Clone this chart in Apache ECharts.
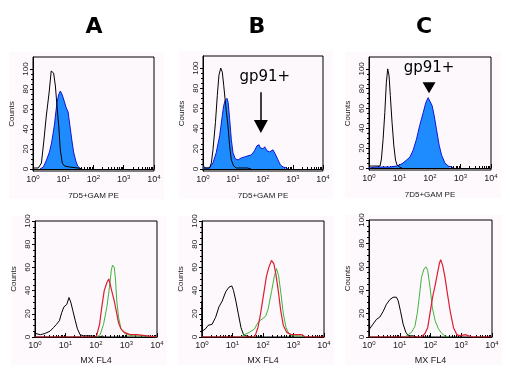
<!DOCTYPE html>
<html><head><meta charset="utf-8">
<script src="https://cdn.jsdelivr.net/npm/echarts@6/dist/echarts.min.js"></script>
<style>html,body{margin:0;padding:0;background:#fff}#c{width:510px;height:368px}</style>
</head><body><div id="c"></div>
<script>
// ---- tick labels / headings ----
const headings = ['A', 'B', 'C'];
const xMajor = [1, 10, 100, 1000, 10000];
const xMinor = [2,3,4,5,6,7,8,9,20,30,40,50,60,70,80,90,200,300,400,500,600,700,800,900,2000,3000,4000,5000,6000,7000,8000,9000];
const yTicks = [0, 20, 40, 60, 80, 100];
const yMinor = [5,10,15,25,30,35,45,50,55,65,70,75,85,90,95];
const topXName = '7D5+GAM PE';
const botXName = 'MX FL4';
const yName = 'Counts';
const markText = 'gp91+';

// ---- data: [fluorescence, counts] ----
const topA_open = [[1,1],[1.5,1],[1.7,3],[1.9,6],[2.3,29],[2.75,53],[3.4,76],[4.0,98],[4.35,100],[4.8,96],[5.5,83],[6.2,63],[7.1,43],[8.0,19],[9.3,6],[11,3],[16,2],[31,1],[42,0]];
const topA_fill = [[1.7,0],[2.2,2],[2.8,9],[3.5,17],[4.1,26],[4.7,37],[5.2,46],[5.7,57],[6.2,66],[7.0,74],[8.0,78],[9.0,75],[10,71],[11.5,65],[12.6,61],[14.5,57],[16,47],[19,30],[22,17],[26,8],[30,3],[34,1],[38,0]];

const topB_open = [[1,1],[1.66,1],[1.9,6],[2.15,19],[2.6,46],[3.0,73],[3.4,93],[3.9,100],[4.4,96],[4.9,83],[5.7,63],[6.8,43],[7.7,23],[8.8,9],[10.5,3],[12.9,1],[20,1],[30,1],[40,0]];
const topB_fill = [[1.0,3],[1.23,1],[1.6,1],[2.15,6],[2.75,16],[3.6,33],[4.4,53],[4.9,63],[5.5,68],[6.3,70],[6.9,66],[7.7,50],[8.8,29],[10,16],[12,10],[14.7,9],[19,11],[24.5,12],[31.6,13],[41,14],[52,18],[63,23],[74,24],[81,21],[100,20],[114,22],[136,18],[167,17],[215,19],[265,14],[316,9],[380,4],[467,2],[600,1],[680,0]];

const topC_open = [[1,2],[2.3,2],[2.55,9],[2.9,29],[3.3,56],[3.7,86],[4.1,100],[4.55,93],[5.0,73],[5.7,46],[6.5,23],[7.4,8],[8.3,3],[10,1],[12,0]];
const topC_fill = [[1,0],[1.7,1],[4.8,1],[7.9,2],[10,3],[13,5],[17,8],[22,11],[28,18],[36,29],[46,43],[60,56],[73,66],[87,71],[98,69],[117,63],[137,53],[163,39],[200,23],[240,13],[309,5],[398,2],[510,1],[575,0]];

const botA_black = [[1,0],[1,5],[1.05,3],[1.5,2],[2.1,3],[3.1,5],[4.0,8],[5.1,11],[6.3,14],[7.5,21],[8.9,26],[11,28],[13,34],[14.9,30],[17.3,23],[21,14],[24.6,7],[30,2],[39,1],[64,1],[137,0],[160,1],[180,0]];
const botA_green = [[107,0],[137,2],[177,11],[228,26],[277,43],[316,57],[348,62],[398,60],[437,49],[480,31],[550,17],[660,7],[800,4],[1030,2],[1700,1],[3600,1],[10000,0]];
const botA_red = [[1,0],[100,0],[107,2],[131,11],[155,26],[186,40],[228,47],[263,50],[300,44],[348,37],[398,31],[457,23],[550,12],[660,7],[850,4],[1320,2],[2190,2],[4680,1],[10000,0]];

const botB_black = [[1,0],[1,31],[1.02,5],[1.3,7],[1.58,10],[2.15,11],[2.8,17],[3.6,26],[4.6,31],[6.0,39],[7.7,43],[9.5,44],[10.8,40],[12.9,31],[15.5,20],[19,8],[23,2],[27.6,1],[41,0]];
const botB_green = [[19,0],[24.5,2],[36,4],[53,7],[63,11],[78,14],[100,16],[123,18],[147,24],[190,39],[234,52],[277,59],[324,53],[390,37],[464,20],[570,8],[700,3],[880,1],[1670,1],[2100,0]];
const botB_red = [[1,0],[50,0],[57,2],[68,8],[83,20],[105,37],[129,52],[155,60],[190,66],[228,63],[265,54],[316,40],[380,23],[464,10],[600,4],[880,2],[1900,2],[2450,0],[10000,0]];

const botC_black = [[1,0],[1,34],[1.05,7],[1.35,11],[1.74,15],[2.24,17],[2.9,22],[3.7,28],[4.8,32],[6.1,34],[7.8,34],[8.9,31],[10.6,22],[12.9,11],[15.8,4],[19,1],[27.5,1],[35,0]];
const botC_green = [[14.7,0],[19,2],[24,4],[31,9],[37,20],[43,34],[51,51],[61,58],[71,60],[81,57],[96,43],[115,25],[141,14],[181,7],[233,3],[296,1],[380,0]];
const botC_red = [[1,0],[51,0],[66,3],[81,8],[96,20],[117,34],[141,44],[167,54],[195,63],[215,66],[250,61],[296,51],[355,37],[437,22],[560,8],[720,2],[910,1],[1350,2],[1740,1],[2240,0],[10000,0]];

// ---- layout ----
const panels = [
  {grid:{left:33,top:57,width:121,height:114}, ymin:-2, ymax:112, xname:topXName, nameGap:21, nameSize:8, kind:'top', open:topA_open, fill:topA_fill},
  {grid:{left:203,top:56,width:120,height:115}, ymin:-2, ymax:112, xname:topXName, nameGap:21, nameSize:8, kind:'top', open:topB_open, fill:topB_fill, arrow:'long'},
  {grid:{left:369,top:57,width:122,height:113}, ymin:-2, ymax:112, xname:topXName, nameGap:21, nameSize:8, kind:'top', open:topC_open, fill:topC_fill, arrow:'short'},
  {grid:{left:35,top:221,width:122,height:116}, ymin:0, ymax:100, xname:botXName, nameGap:19, nameSize:9, kind:'bot', black:botA_black, green:botA_green, red:botA_red},
  {grid:{left:202,top:221,width:122,height:116}, ymin:0, ymax:100, xname:botXName, nameGap:19, nameSize:9, kind:'bot', black:botB_black, green:botB_green, red:botB_red},
  {grid:{left:369,top:220,width:123,height:117}, ymin:0, ymax:100, xname:botXName, nameGap:19, nameSize:9, kind:'bot', black:botC_black, green:botC_green, red:botC_red}
];
const headingX = [94, 257, 424];

const FONT = 'Liberation Sans';
const grids = [], xAxes = [], yAxes = [], series = [], graphics = [];
panels.forEach((p, i) => {
  const g = p.grid;
  graphics.push({type:'rect', z:-10, shape:{x:g.left-24, y:g.top-5, width:g.width+34, height:g.height+33}, style:{fill:'#fdf9fd'}});
  grids.push({left:g.left, top:g.top, width:g.width, height:g.height, show:true, borderColor:'#000', borderWidth:1, backgroundColor:'#fdf8fc'});
  xAxes.push({type:'log', logBase:10, min:1, max:10000, gridIndex:i, position:'bottom',
    axisLine:{show:true, lineStyle:{color:'#000', width:1}},
    axisTick:{show:true, inside:true, length:4, customValues:xMajor, lineStyle:{color:'#000'}},
    axisLabel:{show:true, customValues:xMajor, margin:3, color:'#222', fontSize:9, fontFamily:FONT,
      formatter:v => '10{s|' + Math.round(Math.log10(v)) + '}',
      rich:{s:{fontSize:6, fontFamily:FONT, color:'#222', verticalAlign:'bottom', padding:[0,0,6,0]}}},
    splitLine:{show:false},
    name:p.xname, nameLocation:'middle', nameGap:p.nameGap,
    nameTextStyle:{fontSize:p.nameSize, fontFamily:FONT, color:'#222'}});
  xAxes.push({type:'log', logBase:10, min:1, max:10000, gridIndex:i, position:'bottom',
    axisLine:{show:false}, axisLabel:{show:false}, splitLine:{show:false},
    axisTick:{show:true, inside:true, length:2, customValues:xMinor, lineStyle:{color:'#000'}}});
  yAxes.push({type:'value', min:p.ymin, max:p.ymax, gridIndex:i, position:'left',
    axisLine:{show:true, lineStyle:{color:'#000', width:1}},
    axisTick:{show:true, inside:false, length:3, customValues:yTicks, lineStyle:{color:'#000'}},
    axisLabel:{show:true, customValues:yTicks, rotate:90, margin:3, fontSize:8, fontFamily:FONT, color:'#222'},
    splitLine:{show:false},
    name:yName, nameLocation:'middle', nameGap:17, nameRotate:90,
    nameTextStyle:{fontSize:8, fontFamily:FONT, color:'#222'}});
  yAxes.push({type:'value', min:p.ymin, max:p.ymax, gridIndex:i, position:'left',
    axisLine:{show:false}, axisLabel:{show:false}, splitLine:{show:false},
    axisTick:{show:true, inside:false, length:2, customValues:yMinor, lineStyle:{color:'#000'}}});
  const ax = {xAxisIndex:2*i, yAxisIndex:2*i};
  if (p.kind === 'top') {
    const fillSeries = Object.assign({type:'line', data:p.fill, symbol:'none', smooth:false, silent:true, z:2,
      lineStyle:{color:'#1414d8', width:1}, areaStyle:{color:'#1e8cff', opacity:1}}, ax);
    if (p.arrow === 'long') {
      fillSeries.markLine = {silent:true, symbol:['none','triangle'], symbolSize:[14,13], label:{show:false},
        lineStyle:{color:'#000', width:1.5, type:'solid'},
        data:[[{coord:[85,76]},{coord:[85,42]}]]};
      fillSeries.markPoint = {silent:true, data:[{coord:[115,91], symbol:'circle', symbolSize:1, itemStyle:{color:'rgba(0,0,0,0)'},
        label:{show:true, position:'inside', formatter:markText, fontSize:15, fontFamily:'DejaVu Sans', color:'#000'}}]};
    }
    if (p.arrow === 'short') {
      fillSeries.markPoint = {silent:true, data:[
        {coord:[93,81], symbol:'triangle', symbolRotate:180, symbolSize:[13,11], itemStyle:{color:'#000'}, label:{show:false}},
        {coord:[93,101], symbol:'circle', symbolSize:1, itemStyle:{color:'rgba(0,0,0,0)'},
          label:{show:true, position:'inside', formatter:markText, fontSize:15, fontFamily:'DejaVu Sans', color:'#000'}}]};
    }
    series.push(fillSeries);
    series.push(Object.assign({type:'line', data:p.open, symbol:'none', silent:true, z:3,
      lineStyle:{color:'#000', width:1}}, ax));
  } else {
    series.push(Object.assign({type:'line', data:p.black, symbol:'none', silent:true, z:2, lineStyle:{color:'#000', width:1}}, ax));
    series.push(Object.assign({type:'line', data:p.green, symbol:'none', silent:true, z:3, lineStyle:{color:'#3cb43c', width:1}}, ax));
    series.push(Object.assign({type:'line', data:p.red, symbol:'none', silent:true, z:4, lineStyle:{color:'#dc1e32', width:1.2}}, ax));
  }
});
headings.forEach((h, i) => {
  graphics.push({type:'text', z:10, x:headingX[i], y:27, style:{text:h, x:0, y:0, align:'center', verticalAlign:'middle',
    font:'bold 22px "DejaVu Sans"', fill:'#000'}});
});

const chart = echarts.init(document.getElementById('c'), null, {renderer:'canvas'});
chart.setOption({animation:false, backgroundColor:'#fff', grid:grids, xAxis:xAxes, yAxis:yAxes, series:series, graphic:graphics});
</script></body></html>
